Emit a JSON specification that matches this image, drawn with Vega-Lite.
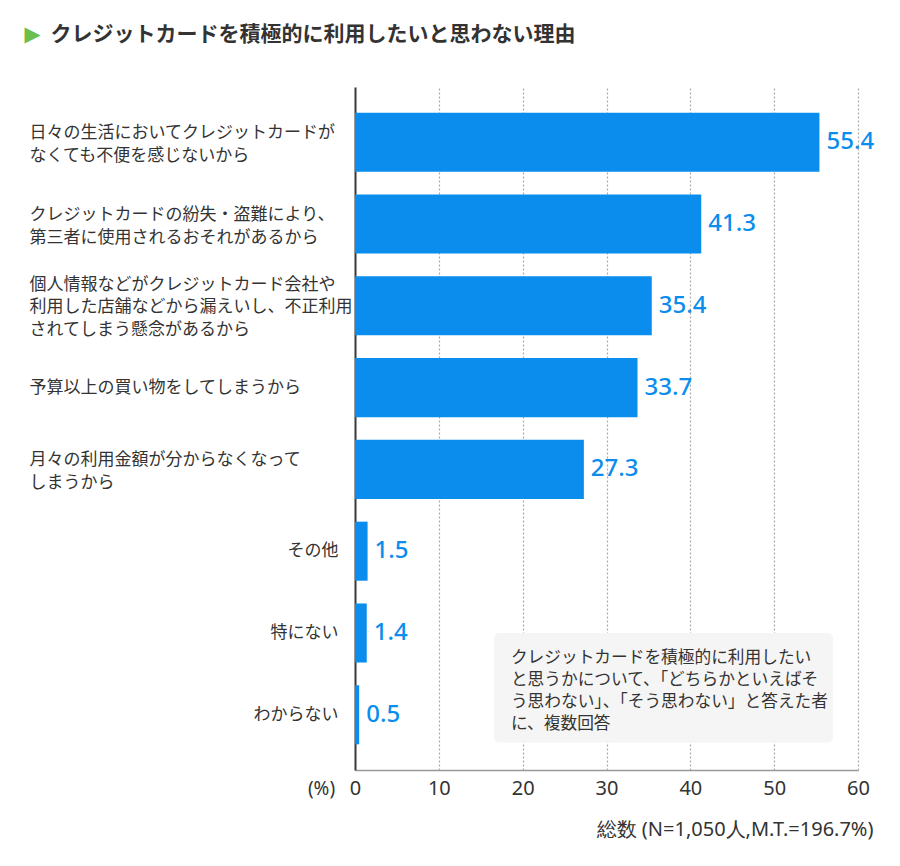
{
  "$schema": "https://vega.github.io/schema/vega-lite/v6.json",
  "width": 503,
  "height": 683,
  "autosize": {"type": "none"},
  "padding": {"left": 355, "top": 87, "right": 42, "bottom": 96},
  "background": "white",
  "config": {"view": {"stroke": null}, "font": "Noto Sans CJK JP"},
  "datasets": {
    "main": [
      {"reason": "日々の生活においてクレジットカードが|なくても不便を感じないから", "value": 55.4},
      {"reason": "クレジットカードの紛失・盗難により、|第三者に使用されるおそれがあるから", "value": 41.3},
      {"reason": "個人情報などがクレジットカード会社や|利用した店舗などから漏えいし、不正利用|されてしまう懸念があるから", "value": 35.4},
      {"reason": "予算以上の買い物をしてしまうから", "value": 33.7},
      {"reason": "月々の利用金額が分からなくなって|しまうから", "value": 27.3},
      {"reason": "その他", "value": 1.5},
      {"reason": "特にない", "value": 1.4},
      {"reason": "わからない", "value": 0.5}
    ],
    "note": [
      {"note": "クレジットカードを積極的に利用したい\nと思うかについて、「どちらかといえばそ\nう思わない」、「そう思わない」と答えた者\nに、複数回答"}
    ]
  },
  "layer": [
    {
      "data": {"name": "note"},
      "mark": {"type": "rect", "fill": "#f5f5f5", "cornerRadius": 5},
      "encoding": {
        "x": {"datum": 16.6, "type": "quantitative"},
        "x2": {"datum": 57.0},
        "y": {"datum": "わからない", "type": "nominal", "bandPosition": 0.97, "axis": null},
        "y2": {"datum": "特にない"}
      }
    },
    {
      "data": {"name": "main"},
      "mark": {"type": "bar", "color": "#0a8ded"},
      "encoding": {
        "y": {
          "field": "reason",
          "type": "nominal",
          "sort": null,
          "scale": {
            "domain": [
              "日々の生活においてクレジットカードが|なくても不便を感じないから",
              "クレジットカードの紛失・盗難により、|第三者に使用されるおそれがあるから",
              "個人情報などがクレジットカード会社や|利用した店舗などから漏えいし、不正利用|されてしまう懸念があるから",
              "予算以上の買い物をしてしまうから",
              "月々の利用金額が分からなくなって|しまうから",
              "その他",
              "特にない",
              "わからない"
            ],
            "paddingInner": 0.278,
            "paddingOuter": 0.314
          },
          "axis": {
            "orient": "left",
            "title": "(%)",
            "titleX": -34,
            "titleY": 701,
            "titleAngle": 0,
            "titleAlign": "center",
            "titleBaseline": "middle",
            "titleFont": "Noto Sans",
            "titleFontSize": 19,
            "titleFontWeight": "normal",
            "titleColor": "#333333",
            "labelExpr": "length(datum.value) > 6 ? '' : datum.label",
            "labelFontSize": 17,
            "labelColor": "#333333",
            "labelBaseline": "middle",
            "labelAlign": "right",
            "labelPadding": 17,
            "labelLimit": 500,
            "labelOverlap": false,
            "labelBound": false,
            "ticks": false,
            "tickSize": 0,
            "grid": false,
            "domainColor": "#3a3a3a",
            "domainWidth": 2
          }
        },
        "x": {
          "field": "value",
          "type": "quantitative",
          "scale": {"domain": [0, 60], "nice": false},
          "axis": {
            "values": [0, 10, 20, 30, 40, 50, 60],
            "title": "総数 (N=1,050人,M.T.=196.7%)",
            "titleX": 518,
            "titleY": 59,
            "titleAlign": "right",
            "titleBaseline": "middle",
            "titleFont": "Noto Sans",
            "titleFontSize": 20,
            "titleFontWeight": "normal",
            "titleColor": "#333333",
            "labelFont": "Noto Sans",
            "labelFontSize": 20,
            "labelColor": "#333333",
            "labelPadding": 8,
            "labelFlush": false,
            "labelOverlap": false,
            "ticks": false,
            "tickSize": 0,
            "grid": true,
            "gridDash": [2, 2],
            "gridColor": "#aaaaaa",
            "gridWidth": 1.2,
            "domainColor": "#999999",
            "domainWidth": 1.5
          }
        }
      }
    },
    {
      "data": {"name": "main"},
      "mark": {"type": "text", "align": "left", "baseline": "middle", "dx": 7, "font": "Noto Sans", "fontSize": 24, "fontWeight": 500, "color": "#0a8ded"},
      "encoding": {
        "y": {
          "field": "reason",
          "type": "nominal",
          "sort": null,
          "axis": {
            "orient": "left",
            "title": "クレジットカードを積極的に利用したいと思わない理由",
            "titleX": -305,
            "titleY": -53,
            "titleAngle": 0,
            "titleAlign": "left",
            "titleBaseline": "middle",
            "titleFontSize": 21,
            "titleFontWeight": "bold",
            "titleColor": "#333333",
            "labels": true,
            "labelExpr": "length(datum.value) > 6 ? split(datum.label, '|') : ''",
            "labelFontSize": 17,
            "labelColor": "#333333",
            "labelLineHeight": 22.5,
            "labelBaseline": "middle",
            "labelAlign": "left",
            "labelPadding": 326,
            "labelLimit": 500,
            "labelOverlap": false,
            "labelBound": false,
            "labelOffset": {
              "condition": [
                {"test": "length(split(datum.value, '|')) == 3", "value": -21},
                {"test": "length(split(datum.value, '|')) == 2", "value": -9}
              ],
              "value": 0
            },
            "ticks": false,
            "tickSize": 0,
            "domain": false,
            "grid": false
          }
        },
        "x": {"field": "value", "type": "quantitative"},
        "text": {"field": "value", "type": "quantitative", "format": ".1f"}
      }
    },
    {
      "data": {"name": "note"},
      "mark": {"type": "text", "align": "left", "baseline": "middle", "fontSize": 16.7, "lineHeight": 22, "lineBreak": "\n", "color": "#333333"},
      "encoding": {
        "x": {"datum": 18.6, "type": "quantitative"},
        "y": {
          "datum": "特にない",
          "type": "nominal",
          "bandPosition": 0.92,
          "axis": {
            "orient": "left",
            "title": "▶",
            "titleX": -323,
            "titleY": -53,
            "titleAngle": 0,
            "titleAlign": "center",
            "titleBaseline": "middle",
            "titleFont": "DejaVu Sans",
            "titleFontSize": 21,
            "titleFontWeight": "normal",
            "titleColor": "#6cbf4c",
            "labels": false,
            "ticks": false,
            "domain": false,
            "grid": false
          }
        },
        "text": {"field": "note"}
      }
    }
  ],
  "resolve": {"axis": {"y": "independent"}}
}
